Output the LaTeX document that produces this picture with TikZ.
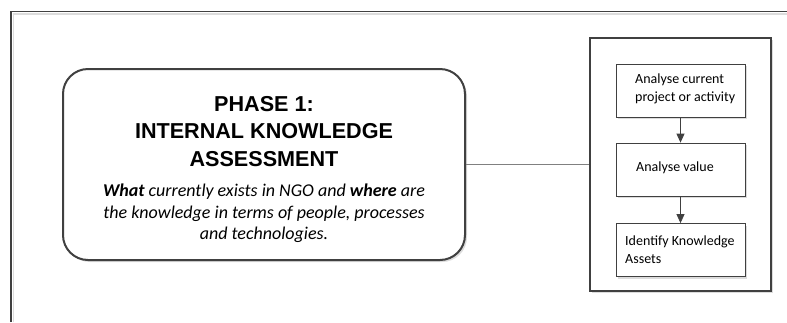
\documentclass[tikz,border=0pt]{standalone}
\usepackage{fontspec}
\setmainfont{Carlito}
\newfontfamily\headfont{Liberation Sans}
\usetikzlibrary{arrows.meta,shadows}
\definecolor{dgray}{HTML}{404040}
\definecolor{lgray}{HTML}{DCDCDC}
\begin{document}
\begin{tikzpicture}[x=1pt,y=-1pt,
  shdw/.style={drop shadow={shadow xshift=2pt,shadow yshift=-2pt,fill=lgray,opacity=1}},
  frame/.style={draw=dgray, line width=1.5pt},
  phase/.style={draw=dgray, line width=2pt, rounded corners=25pt, fill=white, minimum width=402pt, minimum height=191pt, inner sep=0pt, shdw},
  procbox/.style={draw=dgray, line width=2.5pt, fill=white, minimum width=181pt, minimum height=253pt, inner sep=0pt, shdw},
  stepbox/.style={draw=dgray, line width=0.8pt, fill=white, minimum width=129pt, minimum height=53pt, inner sep=0pt, shdw},
  headtext/.style={font=\headfont\bfseries\fontsize{21.6}{27.5}\selectfont, align=center, inner sep=0pt},
  bodytext/.style={font=\itshape\fontsize{18}{21.5}\selectfont, align=center, inner sep=0pt},
  steptext/.style={font=\fontsize{14}{17.5}\selectfont, align=left, inner sep=0pt},
  link/.style={draw=gray, line width=0.9pt},
  arr/.style={draw=dgray, line width=0.8pt, -{Triangle[width=8pt,length=9pt]}},
]
\useasboundingbox (0,0) rectangle (787,322);
% outer frame (only top and left edges visible)
\draw[lgray, line width=1.5pt] (13.5,322) -- (13.5,14) -- (787,14);
\draw[frame] (11,322) -- (11,11.5) -- (787,11.5);

% phase box
\node[phase] (ph) at (264,164.5) {};
\node[headtext, anchor=north] (head) at (264,96) {PHASE 1:\\INTERNAL KNOWLEDGE\\ASSESSMENT};
\node[bodytext, anchor=north] (body) at (264,184) {\textbf{What} currently exists in NGO and \textbf{where} are\\the knowledge in terms of people, processes\\and technologies.};

% process box
\node[procbox] (proc) at (680.5,164.5) {};
\draw[link] (ph.east) -- (proc.west);

\node[stepbox] (s1) at (680.5,90.5) {};
\node[stepbox] (s2) at (680.5,169.5) {};
\node[stepbox] (s3) at (680.5,250) {};

\node[steptext, anchor=west] (t1) at (635,89) {Analyse current\\project or activity};
\node[steptext, anchor=west] (t2) at (636,168) {Analyse value};
\node[steptext, anchor=west] (t3) at (625,249.5) {Identify Knowledge\\Assets};

\draw[arr] (s1) -- (s2);
\draw[arr] (s2) -- (s3);
\end{tikzpicture}
\end{document}
